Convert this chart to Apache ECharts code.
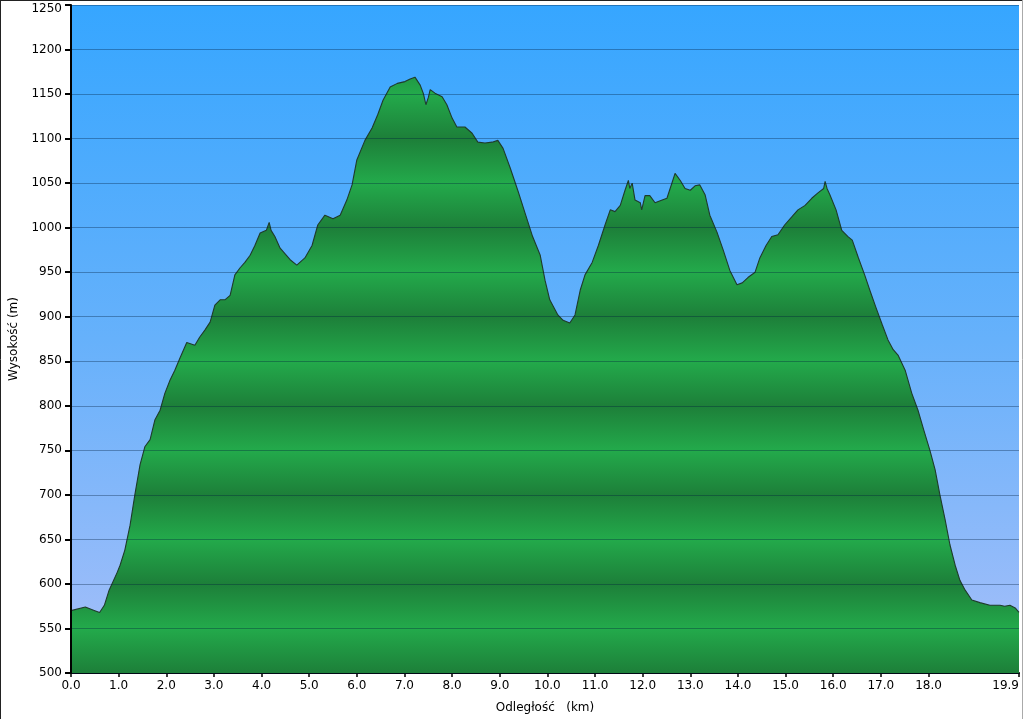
<!DOCTYPE html>
<html>
<head>
<meta charset="utf-8">
<script src="https://cdn.jsdelivr.net/npm/echarts@6/dist/echarts.min.js"></script>
<style>
html,body{margin:0;padding:0;background:#fff;}
#c{width:1024px;height:719px;}
</style>
</head>
<body>
<div id="c"></div>
<script>
// Distance along the route (km)
const distKm = [0,0.3,0.5,0.6,0.7,0.8,0.97,1.03,1.13,1.24,1.34,1.45,1.55,1.66,1.76,1.87,1.97,2.08,2.18,2.29,2.43,2.6,2.7,2.81,2.92,3.02,3.13,3.23,3.34,3.44,3.55,3.65,3.76,3.86,3.97,4.1,4.16,4.2,4.28,4.39,4.6,4.74,4.91,5.06,5.18,5.33,5.5,5.65,5.79,5.9,6.0,6.17,6.32,6.44,6.55,6.7,6.85,7.01,7.12,7.22,7.33,7.4,7.45,7.5,7.54,7.64,7.79,7.89,8.0,8.1,8.27,8.42,8.54,8.69,8.84,8.96,9.07,9.22,9.39,9.54,9.69,9.85,9.95,10.05,10.22,10.33,10.47,10.58,10.69,10.79,10.94,11.07,11.21,11.32,11.42,11.53,11.63,11.7,11.73,11.78,11.84,11.95,11.98,12.05,12.15,12.26,12.41,12.51,12.62,12.68,12.79,12.89,13.0,13.1,13.2,13.31,13.41,13.56,13.69,13.83,13.98,14.09,14.21,14.36,14.46,14.59,14.71,14.84,14.98,15.13,15.26,15.41,15.55,15.68,15.8,15.83,15.87,15.93,16.06,16.18,16.31,16.4,16.53,16.66,16.78,16.9,17.03,17.15,17.26,17.36,17.51,17.65,17.78,17.9,18.03,18.14,18.24,18.35,18.45,18.56,18.66,18.77,18.91,19.08,19.29,19.5,19.6,19.71,19.82,19.9];
// Elevation (m)
const elevM = [570,574,570,568,576,593,613,621,638,666,700,734,754,762,784,795,814,829,840,854,871,868,877,885,894,913,919,919,924,947,955,961,969,980,994,997,1006,997,990,977,964,958,966,980,1003,1014,1010,1014,1031,1048,1076,1098,1112,1127,1143,1158,1162,1164,1167,1169,1160,1150,1138,1146,1155,1151,1147,1138,1123,1113,1113,1106,1096,1095,1096,1098,1089,1067,1040,1015,990,969,941,919,902,896,893,902,930,947,961,980,1003,1020,1018,1025,1042,1053,1044,1050,1031,1028,1020,1036,1036,1028,1031,1033,1051,1061,1053,1044,1042,1047,1048,1037,1014,995,975,952,936,938,944,950,966,980,990,992,1003,1012,1020,1025,1033,1039,1044,1052,1044,1037,1020,997,990,986,966,947,928,910,891,874,863,857,840,814,795,773,750,728,700,672,644,621,604,593,582,579,576,576,575,576,573,568];
// Axis tick values
const xTickValues = [0,1,2,3,4,5,6,7,8,9,10,11,12,13,14,15,16,17,18,19.9];
const yMin = 500, yMax = 1250, yStep = 50;

const seriesData = distKm.map((d, i) => [d, elevM[i]]);

const gridTop = 5, gridBottomPx = 673;
const dark = '#1d7f39', bright = '#23aa4b';
const bandStops = [];
const nBands = (yMax - yMin) / yStep;
for (let k = 0; k <= nBands; k++) {
  const v = yMax - k * yStep;
  bandStops.push({offset: k / nBands, color: (v % 100 === 0) ? dark : bright});
}

const chart = echarts.init(document.getElementById('c'), null, {renderer: 'canvas'});
const font = 'DejaVu Sans';
chart.setOption({
  animation: false,
  backgroundColor: '#ffffff',
  grid: {
    left: 71, top: gridTop, width: 948, height: gridBottomPx - gridTop,
    containLabel: false, outerBoundsMode: 'none',
    show: true, borderWidth: 0,
    backgroundColor: {
      type: 'linear', x: 0, y: 0, x2: 0, y2: 1,
      colorStops: [
        {offset: 0, color: '#36a6ff'},
        {offset: 0.5, color: '#66b1fb'},
        {offset: 1, color: '#a7bff9'}
      ]
    }
  },
  xAxis: {
    type: 'value', min: 0, max: 19.9,
    name: 'Odległość   (km)', nameLocation: 'middle', nameGap: 29,
    nameTextStyle: {fontFamily: font, fontSize: 12, color: '#000'},
    axisLine: {show: true, onZero: false, lineStyle: {color: '#000', width: 2}},
    axisTick: {show: true, length: 4, lineStyle: {color: '#000', width: 1.5}, customValues: xTickValues},
    axisLabel: {fontFamily: font, fontSize: 12, color: '#000', margin: 7, alignMaxLabel: 'right',
      customValues: xTickValues, formatter: v => v.toFixed(1)},
    splitLine: {show: false}
  },
  yAxis: {
    type: 'value', min: yMin, max: yMax, interval: yStep, z: 3,
    name: 'Wysokość (m)', nameLocation: 'middle', nameGap: 51,
    nameTextStyle: {fontFamily: font, fontSize: 12, color: '#000'},
    axisLine: {show: true, lineStyle: {color: '#000', width: 2}},
    axisTick: {show: true, length: 6, lineStyle: {color: '#000', width: 2}},
    axisLabel: {fontFamily: font, fontSize: 12, color: '#000', margin: 9,
      formatter: v => (v === yMax ? '{t|' + v + '}' : String(v)),
      rich: {t: {fontFamily: font, fontSize: 12, color: '#000', padding: [8, 0, 0, 0]}}},
    splitLine: {show: true, lineStyle: {color: 'rgba(0,30,60,0.35)', width: 1}}
  },
  series: [{
    type: 'line',
    data: seriesData,
    showSymbol: false,
    symbol: 'none',
    z: 2,
    lineStyle: {color: '#1f3b2b', width: 1.1},
    areaStyle: {
      origin: 'start',
      opacity: 1,
      color: {type: 'linear', x: 0, y: gridTop, x2: 0, y2: gridBottomPx, global: true, colorStops: bandStops}
    }
  }],
  graphic: [
    {type: 'line', shape: {x1: 0.5, y1: 0, x2: 0.5, y2: 719}, style: {stroke: '#222', lineWidth: 1}},
    {type: 'line', shape: {x1: 0, y1: 0.5, x2: 1022, y2: 0.5}, style: {stroke: '#222', lineWidth: 1}},
    {type: 'line', shape: {x1: 1022.5, y1: 0, x2: 1022.5, y2: 719}, style: {stroke: '#aaa', lineWidth: 1}}
  ]
});
</script>
</body>
</html>
